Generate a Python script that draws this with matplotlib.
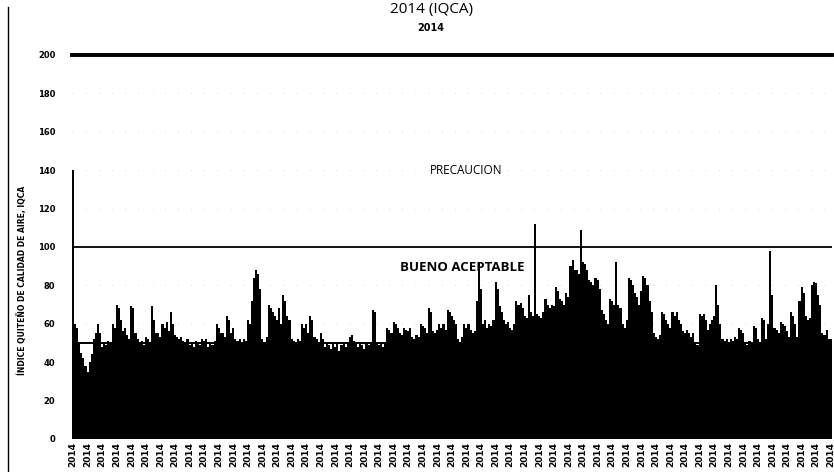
import matplotlib
matplotlib.use("Agg")
import matplotlib.pyplot as plt
from matplotlib.lines import Line2D
import numpy as np

# daily IQCA values (Jan 1 .. Dec 31, 2014)
iqca = [
    140, 60, 58, 50, 45, 42, 38, 35, 40, 44, 52, 55, 60, 55, 48,
    50, 49, 51, 50, 60, 58, 70, 68, 62, 56, 58, 54, 52, 69, 68,
    55, 52, 50, 51, 49, 53, 52, 50, 69, 62, 55, 55, 53, 60, 58,
    61, 56, 66, 60, 54, 53, 52, 53, 51, 50, 52, 49, 50, 48, 51,
    50, 49, 52, 51, 52, 48, 50, 49, 51, 60, 58, 55, 55, 53, 64,
    62, 55, 58, 52, 51, 52, 50, 52, 51, 62, 60, 72, 84, 88, 86,
    78, 52, 50, 53, 70, 68, 66, 64, 62, 68, 60, 75, 72, 64, 62,
    52, 51, 50, 52, 51, 60, 58, 60, 55, 64, 62, 53, 52, 50, 55,
    52, 48, 50, 49, 47, 50, 48, 50, 46, 49, 50, 48, 50, 53, 54,
    51, 50, 48, 50, 49, 47, 50, 49, 50, 67, 66, 50, 49, 50, 48,
    50, 58, 57, 55, 61, 60, 58, 55, 54, 58, 57, 56, 58, 53, 52,
    54, 53, 60, 59, 58, 55, 68, 66, 56, 55, 57, 60, 58, 60, 57,
    67, 66, 64, 62, 60, 52, 50, 53, 60, 58, 60, 57, 55, 56, 72,
    92, 78, 60, 62, 58, 60, 59, 62, 82, 78, 69, 66, 62, 60, 61,
    58, 57, 60, 72, 70, 71, 68, 64, 63, 75, 66, 64, 112, 65, 64,
    63, 66, 73, 70, 68, 70, 69, 79, 77, 73, 72, 70, 76, 74, 90,
    93, 88, 88, 86, 109, 92, 91, 88, 83, 82, 80, 84, 83, 78, 67,
    65, 62, 60, 73, 72, 70, 92, 70, 68, 60, 58, 62, 84, 83, 80,
    76, 74, 70, 77, 85, 84, 80, 72, 66, 55, 53, 52, 54, 66, 65,
    62, 60, 58, 66, 64, 66, 62, 60, 56, 55, 57, 55, 53, 55, 50,
    49, 65, 64, 65, 62, 57, 60, 62, 64, 80, 70, 60, 52, 51, 52,
    50, 52, 51, 53, 52, 58, 57, 55, 50, 49, 51, 50, 59, 58, 52,
    50, 63, 62, 52, 60, 98, 75, 58, 57, 55, 61, 60, 59, 56, 53,
    66, 64, 60, 53, 72, 79, 76, 64, 62, 63, 80, 82, 81, 75, 70,
    55, 54, 57, 52, 52,
]
tick_label = "2014"
y_ticks = [0, 20, 40, 60, 80, 100, 120, 140, 160, 180, 200]
limit_lines = [50, 100, 200]

fig = plt.figure(figsize=(8.34, 4.72), dpi=100, facecolor="white")
ax = fig.add_axes([0.0863, 0.07, 0.911, 0.8135])

days = np.arange(len(iqca))
ax.bar(days, iqca, width=1.0, color="black", edgecolor="black", linewidth=0, zorder=2)

ax.axhline(limit_lines[0], color="black", lw=1.4, zorder=3)
ax.axhline(limit_lines[1], color="black", lw=1.3, zorder=3)
ax.axhline(limit_lines[2], color="black", lw=2.8, zorder=3, clip_on=False)

ax.set_xlim(-0.5, len(iqca) - 0.5)
ax.set_ylim(0, 200)
ax.set_yticks(y_ticks)
ax.set_yticklabels([str(v) for v in y_ticks], fontsize=6, fontweight="bold")
ticks = days[::7]
ax.set_xticks(ticks)
ax.set_xticklabels([tick_label] * len(ticks), rotation=90, fontsize=6.5,
                   fontweight="bold")
ax.tick_params(axis="both", length=0)
ax.tick_params(axis="y", pad=12)
ax.tick_params(axis="x", pad=2)
for s in ax.spines.values():
    s.set_visible(False)
ax.yaxis.grid(True, linestyle=(0, (1, 18)), color="0.7", lw=0.5, zorder=1)
ax.set_axisbelow(True)

ax.text(189, 140, "PRECAUCION", ha="center", va="center", fontsize=8.5,
        family="Open Sans")
ax.text(187, 89.5, "BUENO ACEPTABLE", ha="center", va="center", fontsize=9.5,
        fontweight="bold", family="Open Sans", zorder=4)

fig.text(0.517, 0.972, "2014 (IQCA)", ha="center", va="baseline",
         fontsize=11, family="Open Sans")
fig.text(0.516, 0.94, "2014", ha="center", va="center", fontsize=7,
         fontweight="bold")
fig.text(0.027, 0.405, "ÍNDICE QUITEÑO DE CALIDAD DE AIRE, IQCA", rotation=90,
         ha="center", va="center", fontsize=5.5, fontweight="bold")

fig.add_artist(Line2D([0.0095, 0.0095], [0.0, 0.985], color="black", lw=1.0))

fig.savefig("out.png", dpi=100)
